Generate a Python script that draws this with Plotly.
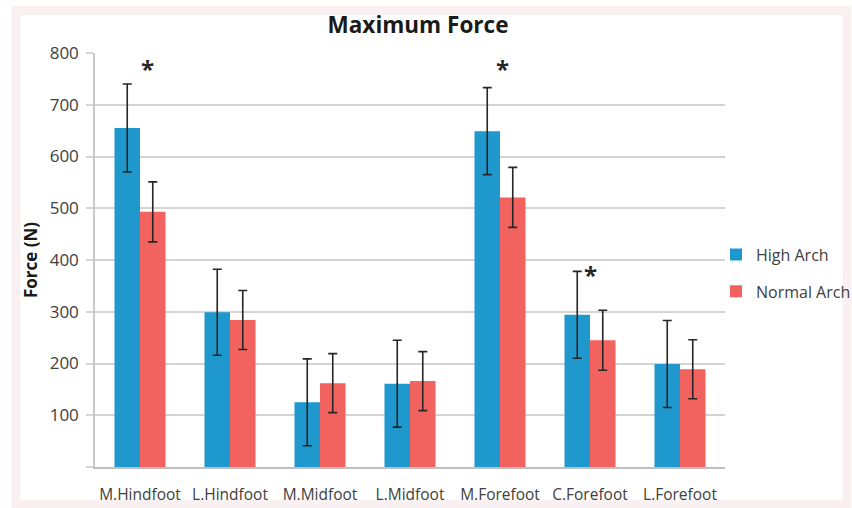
import plotly.graph_objects as go

# Plantar regions and peak force (N), mean ± SD
regions = ["M.Hindfoot", "L.Hindfoot", "M.Midfoot", "L.Midfoot",
           "M.Forefoot", "C.Forefoot", "L.Forefoot"]
high_arch = [655, 299, 125, 161, 649, 294, 199]
high_arch_sd = [85, 83, 84, 84, 84, 84, 84]
normal_arch = [493, 284, 162, 166, 521, 245, 189]
normal_arch_sd = [58, 57, 57, 57, 58, 58, 57]

# Significant differences marked with an asterisk: (region, y position)
sig_regions = ["M.Hindfoot", "M.Forefoot", "C.Forefoot"]
sig_y = [771, 771, 372]
sig_xshift = [7, 2, 0]

y_ticks = [0, 100, 200, 300, 400, 500, 600, 700, 800]

BLUE = "#1f98cd"
RED = "#f2635f"
GRID = "#d4d4d4"
TEXT = "#404040"
FONT = "Open Sans"

W, H = 852, 508
L, R, T, B = 95, 127, 53, 41.3
PW, PH = W - L - R, H - T - B

fig = go.Figure()
fig.add_trace(go.Bar(
    x=regions, y=high_arch, name="High Arch", legendgroup="a",
    marker=dict(color=BLUE, line=dict(width=0)),
    error_y=dict(type="data", array=high_arch_sd, visible=True,
                 color="#262626", thickness=1.6, width=4.5),
))
fig.add_trace(go.Bar(
    x=regions, y=normal_arch, name="Normal Arch", legendgroup="b",
    marker=dict(color=RED, line=dict(width=0)),
    error_y=dict(type="data", array=normal_arch_sd, visible=True,
                 color="#262626", thickness=1.6, width=4.5),
))

for r, yv, xs in zip(sig_regions, sig_y, sig_xshift):
    fig.add_annotation(x=r, y=yv, xref="x", yref="y", text="<b>*</b>",
                       showarrow=False, xshift=xs,
                       font=dict(family=FONT, size=24, color="#262626"))

# Thin pinkish frame around the whole figure
fig.add_shape(type="rect", xref="paper", yref="paper",
              x0=(16 - L) / PW, x1=(847 - L) / PW,
              y0=(H - B - 504) / PH, y1=(H - B - 10.5) / PH,
              line=dict(color="#f9f1f1", width=9), fillcolor="rgba(0,0,0,0)",
              layer="below")

fig.update_layout(
    width=W, height=H,
    margin=dict(l=L, r=R, t=T, b=B, autoexpand=False),
    paper_bgcolor="white", plot_bgcolor="white",
    barmode="group", bargap=0.433, bargroupgap=0,
    font=dict(family=FONT, color=TEXT),
    title=dict(text="<b>Maximum Force</b>", x=418 / W,
               xanchor="center", y=1 - 25 / H, yanchor="middle",
               font=dict(family=FONT, size=22.5, color="#1a1a1a")),
    legend=dict(x=(716 - L) / PW, xanchor="left",
                y=(H - B - 273) / PH, yanchor="middle",
                font=dict(family=FONT, size=16, color=TEXT),
                tracegroupgap=13, traceorder="grouped",
                itemwidth=30,
                bgcolor="rgba(0,0,0,0)"),
    showlegend=True,
)

fig.update_xaxes(
    showline=True, linecolor="#bfbfbf", linewidth=1.5,
    showgrid=False, ticks="", tickfont=dict(family=FONT, size=15.5, color=TEXT),
    ticklabelstandoff=13,
)
fig.update_yaxes(
    range=[0, 800], tickvals=y_ticks,
    ticktext=["" if v == 0 else str(v) for v in y_ticks],
    showgrid=True, gridcolor=GRID, gridwidth=1.5,
    showline=True, linecolor="#c8c8c8", linewidth=1.5,
    ticks="outside", ticklen=7, tickcolor=GRID, tickwidth=1.5,
    tickfont=dict(family=FONT, size=17, color=TEXT),
    ticklabelstandoff=4,
    zeroline=False,
    title=dict(text="<b>Force (N)</b>", standoff=8,
               font=dict(family=FONT, size=17, color="#1a1a1a")),
)

fig.write_html("out.html")
